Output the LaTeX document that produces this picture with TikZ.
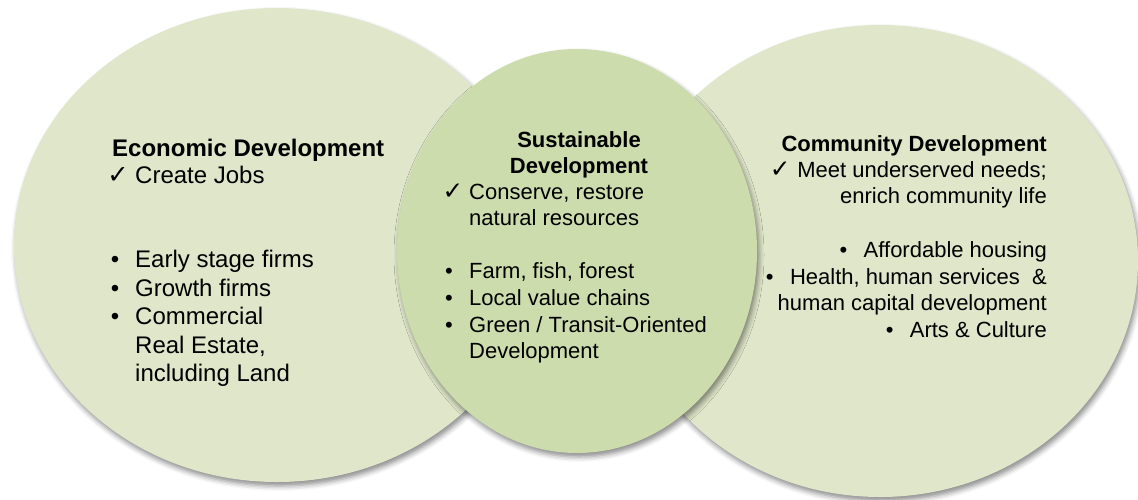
\documentclass[tikz,border=0pt]{standalone}
\usepackage{fontspec}
\setmainfont{Liberation Sans}
\newfontfamily\checkfont{DejaVu Sans}
\usetikzlibrary{shadows.blur}
\definecolor{outergreen}{RGB}{223,230,201}
\definecolor{innergreen}{RGB}{205,220,173}
\begin{document}
\begin{tikzpicture}[x=1pt,y=-1pt,
  bubble/.style={blur shadow={shadow xshift=2pt,shadow yshift=-4pt,shadow blur radius=5pt,shadow opacity=45}},
  big/.style={inner sep=0pt,font=\fontsize{24}{29}\selectfont},
  small/.style={inner sep=0pt,font=\fontsize{22}{26.5}\selectfont},
  bigb/.style={big,font=\fontsize{24}{29}\selectfont\bfseries},
  smallb/.style={small,font=\fontsize{22}{26.5}\selectfont\bfseries},
  tick/.style={inner sep=0pt,anchor=base,font=\checkfont\fontsize{17}{17}\selectfont},
  dot/.style={inner sep=0pt,anchor=base}]
\useasboundingbox (0,0) rectangle (1138,499);
% circles
\fill[outergreen,bubble] (277,245) ellipse [x radius=263,y radius=237];
\fill[outergreen,bubble] (880,261) ellipse [x radius=258,y radius=236];
\fill[innergreen,bubble] (577,251) ellipse [x radius=180,y radius=202];
% left block
\node[bigb,anchor=base west] (l0) at (112,156) {Economic Development};
\node[big,anchor=base west] (l1) at (135,183) {Create Jobs};
\node[tick] (l1t) at ([xshift=-17pt]l1.base west) {\scalebox{1.5}{✓}};
\node[big,anchor=base west] (l2) at (135,267) {Early stage firms};
\node[big,anchor=base west] (l3) at (135,296) {Growth firms};
\node[big,anchor=base west] (l4) at (135,324) {Commercial};
\node[big,anchor=base west] (l5) at (135,353) {Real Estate,};
\node[big,anchor=base west] (l6) at (135,381) {including Land};
\node[big,dot] (l2d) at ([xshift=-20pt]l2.base west) {•};
\node[big,dot] (l3d) at ([xshift=-20pt]l3.base west) {•};
\node[big,dot] (l4d) at ([xshift=-20pt]l4.base west) {•};
% centre block
\node[smallb,anchor=base] (c0) at (579,147) {Sustainable};
\node[smallb,anchor=base] (c0b) at (579,173) {Development};
\node[small,anchor=base west] (c1) at (469,199) {Conserve, restore};
\node[small,anchor=base west] (c1b) at (469,225) {natural resources};
\node[tick] (c1t) at ([xshift=-16pt]c1.base west) {\scalebox{1.45}{✓}};
\node[small,anchor=base west] (c2) at (469,278) {Farm, fish, forest};
\node[small,anchor=base west] (c3) at (469,305) {Local value chains};
\node[small,anchor=base west] (c4) at (469,332) {Green / Transit-Oriented};
\node[small,anchor=base west] (c4b) at (469,358) {Development};
\node[small,dot] (c2d) at ([xshift=-20pt]c2.base west) {•};
\node[small,dot] (c3d) at ([xshift=-20pt]c3.base west) {•};
\node[small,dot] (c4d) at ([xshift=-20pt]c4.base west) {•};
% right block
\node[smallb,anchor=base east] (r0) at (1047,151) {Community Development};
\node[small,anchor=base east] (r1) at (1047,177) {Meet underserved needs;};
\node[tick] (r1t) at ([xshift=-17pt]r1.base west) {\scalebox{1.45}{✓}};
\node[small,anchor=base east] (r1b) at (1047,203) {enrich community life};
\node[small,anchor=base east] (r2) at (1047,257) {Affordable housing};
\node[small,anchor=base east] (r3) at (1047,284) {Health, human services\ \ \&};
\node[small,anchor=base east] (r3b) at (1047,310) {human capital development};
\node[small,anchor=base east] (r4) at (1047,337) {Arts \& Culture};
\node[small,dot] (r2d) at ([xshift=-20pt]r2.base west) {•};
\node[small,dot] (r3d) at ([xshift=-20pt]r3.base west) {•};
\node[small,dot] (r4d) at ([xshift=-20pt]r4.base west) {•};
\end{tikzpicture}
\end{document}
